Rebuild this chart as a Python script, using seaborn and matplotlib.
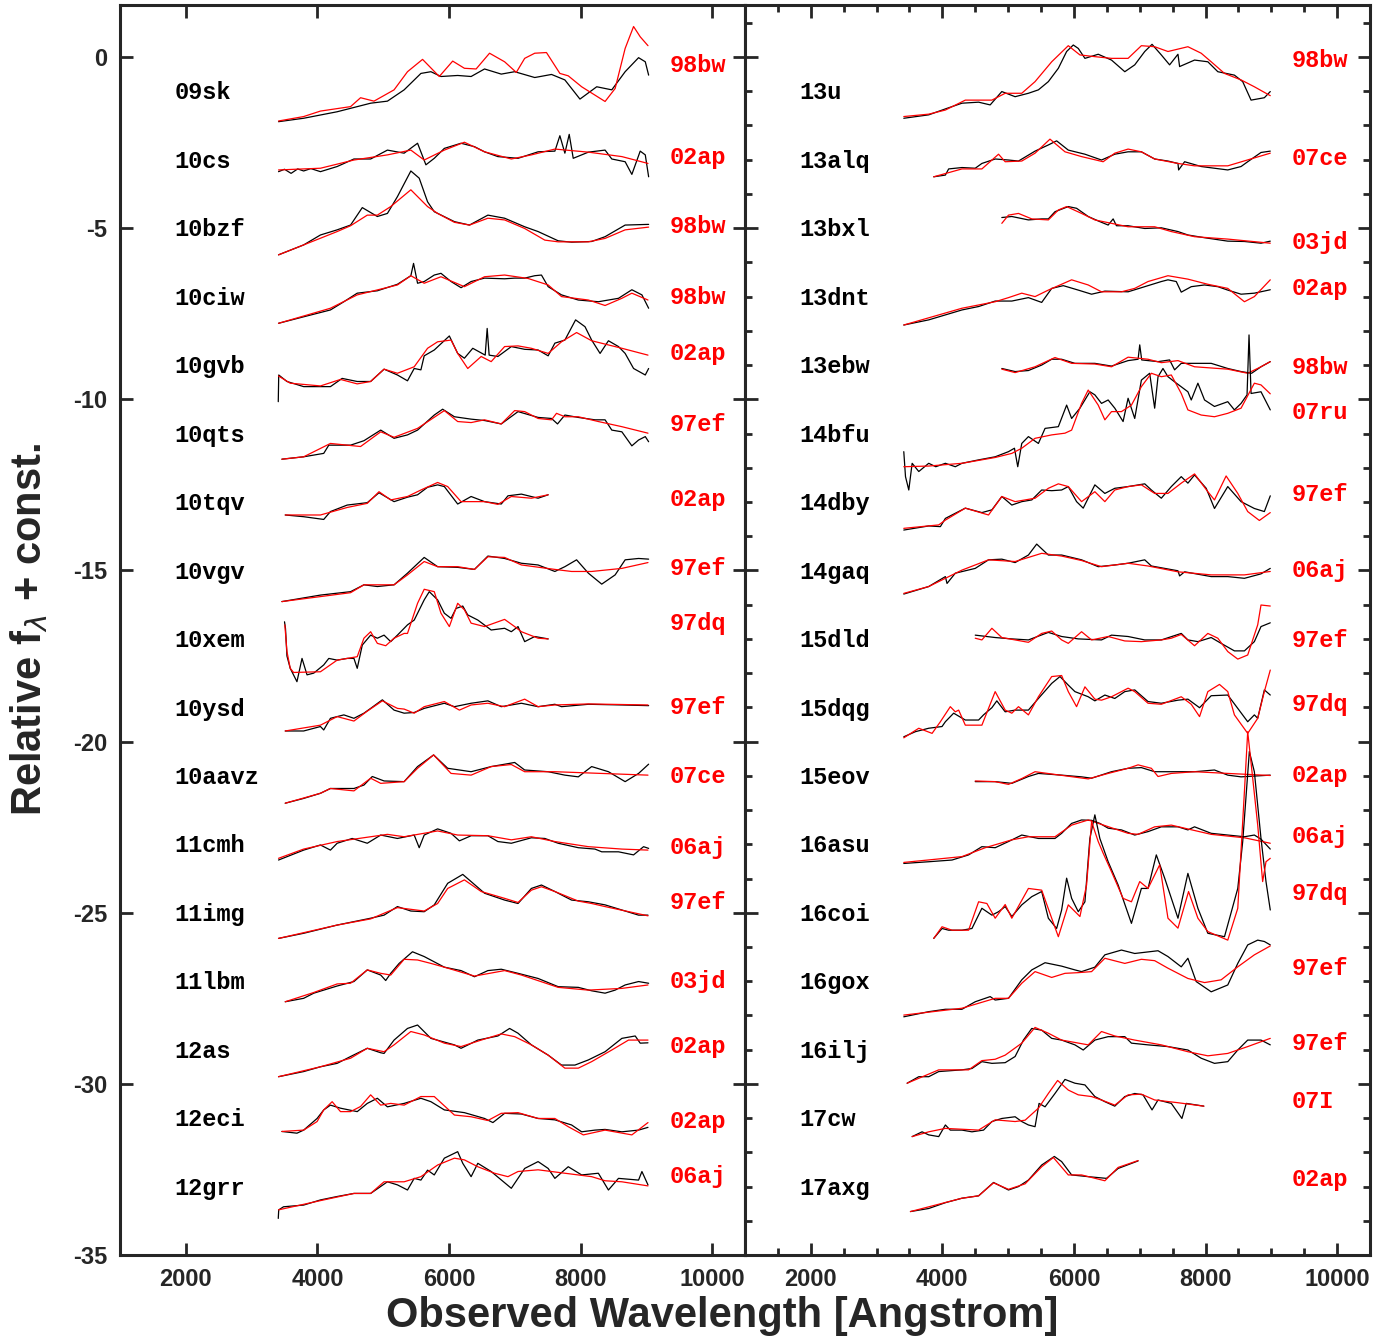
import numpy as np
import pandas as pd
import matplotlib
matplotlib.use("Agg")
from matplotlib import pyplot as plt
from matplotlib.ticker import MultipleLocator
import seaborn as sns

# ---- left column: SN names, best-match templates ----
left_names = ["09sk", "10cs", "10bzf", "10ciw", "10gvb", "10qts", "10tqv", "10vgv", "10xem",
              "10ysd", "10aavz", "11cmh", "11img", "11lbm", "12as", "12eci", "12grr"]
left_tpls = ["98bw", "02ap", "98bw", "98bw", "02ap", "97ef", "02ap", "97ef", "97dq",
             "97ef", "07ce", "06aj", "97ef", "03jd", "02ap", "02ap", "06aj"]

# ---- right column ----
right_names = ["13u", "13alq", "13bxl", "13dnt", "13ebw", "14bfu", "14dby", "14gaq", "15dld",
               "15dqg", "15eov", "16asu", "16coi", "16gox", "16ilj", "17cw", "17axg"]
right_tpls = ["98bw", "07ce", "03jd", "02ap", "98bw", "07ru", "97ef", "06aj", "97ef",
              "97dq", "02ap", "06aj", "97dq", "97ef", "97ef", "07I", "02ap"]

# observed spectra (black) and template spectra (red): (wavelength, relative flux + const)
obs_09sk = [(3409,-1.89),(3791,-1.79),(4300,-1.60),(4809,-1.35),(5064,-1.29),(5318,-0.96),(5573,-0.48),(5725,-0.43),(5878,-0.57),(6132,-0.54),(6336,-0.57),(6540,-0.35),(6794,-0.50),(6998,-0.43),(7303,-0.60),(7558,-0.51),(7761,-0.67),(7990,-1.23),(8245,-0.87),(8474,-0.96),(8677,-0.43),(8881,-0.02),(8983,-0.14),(9034,-0.53)]
tpl_09sk = [(3409,-1.87),(3791,-1.74),(4046,-1.58),(4504,-1.45),(4656,-1.19),(4860,-1.29),(5165,-0.96),(5369,-0.43),(5598,-0.07),(5852,-0.57),(6056,-0.12),(6234,-0.33),(6412,-0.35),(6616,0.11),(6845,-0.14),(7023,-0.45),(7150,-0.04),(7303,0.11),(7481,0.13),(7685,-0.48),(7812,-0.55),(8016,-0.87),(8372,-1.30),(8525,-0.92),(8677,0.25),(8805,0.89),(8906,0.59),(9024,0.33)]
obs_10cs = [(3409,-3.35),(3500,-3.28),(3600,-3.40),(3700,-3.27),(3791,-3.33),(3900,-3.26),(4046,-3.35),(4300,-3.20),(4555,-2.98),(4809,-2.98),(5064,-2.72),(5318,-2.81),(5522,-2.52),(5649,-3.15),(5776,-2.96),(5929,-2.67),(6183,-2.52),(6387,-2.62),(6540,-2.77),(6743,-2.91),(7049,-2.96),(7354,-2.77),(7609,-2.75),(7685,-2.30),(7761,-2.81),(7827,-2.26),(7888,-2.96),(8118,-2.78),(8372,-2.72),(8474,-2.98),(8677,-3.06),(8779,-3.43),(8906,-2.75),(8983,-2.86),(9034,-3.50)]
tpl_10cs = [(3409,-3.30),(4046,-3.25),(4555,-3.01),(5064,-2.86),(5420,-2.72),(5623,-3.01),(5929,-2.72),(6234,-2.49),(6540,-2.77),(6947,-2.98),(7252,-2.86),(7609,-2.69),(8118,-2.78),(8627,-2.91),(9024,-3.11)]
obs_10bzf = [(3409,-5.78),(3791,-5.49),(4046,-5.20),(4300,-5.05),(4504,-4.91),(4682,-4.40),(4911,-4.66),(5064,-4.57),(5216,-4.08),(5420,-3.33),(5547,-3.54),(5674,-4.23),(5776,-4.52),(6082,-4.81),(6311,-4.91),(6591,-4.62),(6845,-4.71),(7150,-4.96),(7354,-5.10),(7659,-5.37),(7863,-5.41),(8168,-5.39),(8372,-5.25),(8677,-4.91),(9034,-4.89)]
tpl_10bzf = [(3409,-5.78),(3791,-5.49),(4300,-5.10),(4504,-4.93),(4758,-4.62),(4911,-4.62),(5114,-4.37),(5420,-3.88),(5674,-4.37),(5827,-4.57),(6082,-4.83),(6311,-4.91),(6591,-4.71),(6845,-4.76),(7150,-5.01),(7456,-5.35),(7659,-5.40),(8118,-5.40),(8372,-5.30),(8677,-5.05),(9034,-4.97)]
obs_10ciw = [(3409,-7.78),(3791,-7.59),(4198,-7.39),(4402,-7.15),(4605,-6.90),(4911,-6.83),(5216,-6.64),(5420,-6.39),(5461,-6.03),(5522,-6.61),(5623,-6.56),(5776,-6.37),(5878,-6.32),(6031,-6.56),(6183,-6.74),(6336,-6.56),(6540,-6.46),(6845,-6.48),(6998,-6.46),(7150,-6.46),(7303,-6.39),(7405,-6.37),(7507,-6.71),(7710,-6.95),(7965,-7.10),(8270,-7.15),(8576,-7.05),(8779,-6.80),(8932,-6.95),(9034,-7.34)]
tpl_10ciw = [(3409,-7.78),(4198,-7.34),(4605,-6.95),(5216,-6.66),(5420,-6.39),(5623,-6.61),(5878,-6.42),(6234,-6.71),(6540,-6.42),(6845,-6.37),(7201,-6.47),(7507,-6.66),(7710,-7.00),(8118,-7.10),(8372,-7.26),(8627,-7.05),(8779,-6.90),(9024,-7.10)]
obs_10gvb = [(3405,-10.07),(3412,-9.29),(3537,-9.48),(3791,-9.63),(4198,-9.63),(4376,-9.39),(4605,-9.48),(4809,-9.48),(5013,-9.12),(5216,-9.29),(5369,-9.46),(5471,-9.10),(5573,-9.14),(5623,-8.73),(5776,-8.56),(6005,-8.15),(6132,-8.66),(6234,-8.80),(6361,-8.51),(6550,-8.71),(6580,-7.93),(6610,-8.71),(6743,-8.75),(6947,-8.46),(7150,-8.54),(7354,-8.56),(7507,-8.73),(7609,-8.36),(7761,-8.27),(7924,-7.68),(8067,-7.88),(8168,-8.27),(8296,-8.66),(8423,-8.29),(8576,-8.46),(8677,-8.66),(8805,-9.10),(8983,-9.29),(9034,-9.10)]
tpl_10gvb = [(3409,-9.32),(3587,-9.53),(4046,-9.61),(4351,-9.42),(4605,-9.55),(4809,-9.48),(5013,-9.12),(5216,-9.24),(5471,-9.05),(5674,-8.51),(5827,-8.32),(6031,-8.27),(6132,-8.66),(6285,-9.10),(6489,-8.75),(6641,-8.90),(6845,-8.46),(7049,-8.44),(7252,-8.51),(7507,-8.66),(7710,-8.32),(7939,-8.05),(8168,-8.29),(8627,-8.51),(9024,-8.71)]
obs_10qts = [(3460,-11.75),(3791,-11.68),(4096,-11.58),(4173,-11.34),(4504,-11.34),(4707,-11.21),(4962,-10.90),(5165,-11.14),(5369,-11.04),(5522,-10.90),(5776,-10.46),(5903,-10.29),(6082,-10.51),(6336,-10.58),(6540,-10.62),(6794,-10.72),(7049,-10.36),(7354,-10.53),(7558,-10.56),(7649,-10.72),(7761,-10.46),(7965,-10.53),(8219,-10.60),(8372,-10.60),(8474,-10.90),(8627,-10.95),(8779,-11.36),(8881,-11.19),(8983,-11.09),(9034,-11.24)]
tpl_10qts = [(3460,-11.75),(3791,-11.68),(4198,-11.29),(4656,-11.38),(4962,-10.95),(5165,-11.11),(5522,-10.85),(5929,-10.33),(6132,-10.65),(6336,-10.68),(6540,-10.60),(6794,-10.72),(6998,-10.33),(7150,-10.36),(7354,-10.56),(7558,-10.60),(7634,-10.41),(7761,-10.51),(7965,-10.51),(8270,-10.65),(8627,-10.80),(9024,-10.99)]
obs_10tqv = [(3511,-13.38),(3791,-13.43),(4096,-13.51),(4198,-13.28),(4453,-13.09),(4758,-13.02),(4936,-12.73),(5165,-12.99),(5369,-12.86),(5522,-12.79),(5674,-12.57),(5827,-12.50),(5929,-12.55),(6132,-13.06),(6336,-12.84),(6540,-12.99),(6794,-13.06),(6896,-12.82),(7100,-12.77),(7354,-12.89),(7507,-12.79)]
tpl_10tqv = [(3511,-13.38),(4046,-13.38),(4453,-13.16),(4758,-13.04),(4936,-12.70),(5114,-12.94),(5369,-12.84),(5573,-12.65),(5827,-12.43),(5980,-12.55),(6183,-12.99),(6540,-12.99),(6743,-13.07),(6947,-12.84),(7252,-12.89),(7507,-12.79)]
obs_10vgv = [(3460,-15.91),(4046,-15.72),(4504,-15.62),(4707,-15.42),(4911,-15.47),(5165,-15.42),(5369,-15.08),(5623,-14.62),(5827,-14.89),(6132,-14.91),(6387,-14.97),(6591,-14.58),(6845,-14.65),(7100,-14.79),(7354,-14.84),(7609,-15.03),(7761,-14.89),(7939,-14.69),(8118,-15.08),(8321,-15.40),(8525,-15.13),(8677,-14.69),(8881,-14.65),(9034,-14.67)]
tpl_10vgv = [(3460,-15.91),(4504,-15.65),(4707,-15.42),(5165,-15.42),(5369,-15.13),(5623,-14.74),(5827,-14.89),(6132,-14.89),(6387,-14.97),(6591,-14.60),(6845,-14.62),(7100,-14.84),(7609,-14.97),(7863,-15.03),(8168,-15.03),(8627,-14.94),(9024,-14.77)]
obs_10xem = [(3500,-16.50),(3515,-16.70),(3537,-17.50),(3587,-17.86),(3689,-18.25),(3766,-17.57),(3842,-18.05),(3944,-18.00),(4096,-17.76),(4173,-17.57),(4300,-17.62),(4453,-17.57),(4555,-17.57),(4605,-17.86),(4682,-17.18),(4809,-16.89),(4911,-16.98),(5013,-16.89),(5114,-17.08),(5216,-16.89),(5369,-16.59),(5471,-16.45),(5623,-15.86),(5700,-15.62),(5827,-15.86),(5929,-16.25),(6031,-16.40),(6107,-16.11),(6209,-16.04),(6285,-16.30),(6438,-16.45),(6641,-16.74),(6845,-16.69),(6947,-16.79),(7049,-16.64),(7150,-17.08),(7303,-16.93),(7507,-17.00)]
tpl_10xem = [(3505,-16.59),(3537,-17.37),(3587,-17.86),(3638,-17.98),(4046,-17.96),(4300,-17.62),(4605,-17.52),(4707,-16.98),(4809,-16.79),(4911,-17.13),(5038,-17.20),(5165,-16.98),(5318,-16.84),(5369,-16.84),(5522,-15.96),(5623,-15.55),(5776,-15.62),(5878,-16.25),(6005,-16.64),(6132,-15.96),(6234,-16.15),(6336,-16.54),(6540,-16.64),(6845,-16.43),(6998,-16.64),(7100,-16.79),(7354,-16.98),(7507,-17.00)]
obs_10ysd = [(3511,-19.69),(3791,-19.69),(4046,-19.56),(4096,-19.66),(4198,-19.32),(4402,-19.22),(4555,-19.32),(4707,-19.17),(4809,-19.03),(4987,-18.78),(5165,-19.08),(5318,-19.17),(5471,-19.15),(5623,-19.03),(5929,-18.88),(6082,-18.98),(6336,-18.88),(6591,-18.81),(6794,-18.98),(7100,-18.88),(7354,-18.98),(7609,-18.91),(7710,-18.98),(8118,-18.91),(8627,-18.93),(9034,-18.95)]
tpl_10ysd = [(3511,-19.69),(4046,-19.52),(4300,-19.27),(4555,-19.40),(4758,-19.11),(4987,-18.81),(5216,-19.03),(5318,-19.05),(5471,-19.17),(5623,-18.98),(5929,-18.83),(6158,-19.08),(6336,-18.93),(6591,-18.88),(6845,-18.98),(7150,-18.76),(7354,-18.98),(7609,-18.93),(8118,-18.90),(9024,-18.93)]
obs_10aavz = [(3511,-21.80),(3791,-21.66),(4046,-21.51),(4198,-21.37),(4555,-21.37),(4707,-21.27),(4834,-21.02),(5013,-21.15),(5318,-21.17),(5522,-20.73),(5766,-20.39),(5980,-20.78),(6336,-20.88),(6641,-20.73),(6998,-20.61),(7150,-20.83),(7507,-20.88),(7761,-20.98),(7965,-21.03),(8168,-20.73),(8423,-20.88),(8677,-21.17),(8881,-20.93),(9034,-20.66)]
tpl_10aavz = [(3511,-21.80),(4046,-21.51),(4198,-21.37),(4555,-21.44),(4809,-21.07),(4962,-21.22),(5318,-21.17),(5522,-20.78),(5766,-20.39),(6031,-20.93),(6336,-20.98),(6641,-20.73),(6947,-20.67),(7150,-20.88),(7609,-20.88),(9024,-20.98)]
obs_11cmh = [(3409,-23.46),(3791,-23.17),(4046,-23.02),(4198,-23.17),(4300,-22.97),(4529,-22.83),(4758,-22.97),(4962,-22.73),(5216,-22.83),(5471,-22.73),(5547,-23.10),(5623,-22.73),(5827,-22.55),(6031,-22.68),(6158,-22.90),(6336,-22.75),(6591,-22.75),(6743,-22.92),(6947,-22.97),(7252,-22.81),(7456,-22.83),(7659,-22.97),(7965,-23.10),(8219,-23.14),(8321,-23.22),(8576,-23.22),(8805,-23.31),(8957,-23.07),(9034,-23.12)]
tpl_11cmh = [(3409,-23.41),(3791,-23.14),(4300,-22.92),(4809,-22.78),(5064,-22.71),(5318,-22.78),(5827,-22.61),(6132,-22.73),(6591,-22.75),(6947,-22.87),(7252,-22.78),(7609,-22.92),(8118,-23.07),(8627,-23.14),(9024,-23.17)]
obs_11img = [(3409,-25.75),(3791,-25.60),(4300,-25.36),(4809,-25.16),(5013,-25.07),(5216,-24.82),(5420,-24.95),(5623,-24.97),(5776,-24.77),(5980,-24.14),(6209,-23.88),(6336,-24.09),(6540,-24.43),(6845,-24.63),(7049,-24.73),(7252,-24.29),(7405,-24.19),(7609,-24.38),(7863,-24.63),(8118,-24.68),(8372,-24.77),(8627,-24.92),(8881,-25.07),(9024,-25.07)]
tpl_11img = [(3409,-25.75),(4300,-25.36),(4809,-25.18),(5216,-24.85),(5623,-24.95),(5827,-24.73),(5980,-24.29),(6234,-24.04),(6489,-24.38),(6845,-24.58),(7049,-24.70),(7252,-24.34),(7405,-24.24),(7609,-24.38),(7965,-24.66),(8168,-24.73),(8372,-24.82),(9024,-25.09)]
obs_11lbm = [(3511,-27.60),(3791,-27.50),(3944,-27.35),(4300,-27.14),(4555,-27.01),(4758,-26.67),(4962,-26.82),(5038,-26.98),(5114,-26.77),(5242,-26.48),(5445,-26.14),(5623,-26.28),(5929,-26.59),(6183,-26.69),(6387,-26.87),(6591,-26.69),(6794,-26.65),(7049,-26.77),(7354,-26.92),(7659,-27.16),(7965,-27.18),(8168,-27.28),(8372,-27.35),(8525,-27.26),(8677,-27.11),(8881,-27.01),(9034,-27.06)]
tpl_11lbm = [(3511,-27.60),(3944,-27.33),(4300,-27.08),(4504,-27.06),(4758,-26.67),(4962,-26.77),(5114,-26.82),(5318,-26.36),(5522,-26.38),(5725,-26.48),(5929,-26.59),(6387,-26.85),(6845,-26.69),(7100,-26.82),(7659,-27.18),(8118,-27.26),(8627,-27.21),(9024,-27.11)]
obs_12as = [(3409,-29.79),(3791,-29.64),(4046,-29.50),(4300,-29.40),(4504,-29.20),(4758,-28.96),(4962,-29.09),(5013,-29.11),(5165,-28.72),(5369,-28.38),(5522,-28.28),(5725,-28.67),(6082,-28.86),(6183,-28.96),(6438,-28.72),(6743,-28.60),(6921,-28.38),(7049,-28.52),(7252,-28.86),(7507,-29.16),(7710,-29.45),(7914,-29.45),(8118,-29.30),(8372,-29.06),(8627,-28.67),(8830,-28.60),(8906,-28.81),(9024,-28.80)]
tpl_12as = [(3409,-29.79),(4046,-29.50),(4504,-29.25),(4758,-28.96),(5013,-29.06),(5165,-28.86),(5420,-28.47),(5623,-28.57),(5929,-28.81),(6183,-28.91),(6489,-28.72),(6794,-28.54),(6998,-28.62),(7252,-28.86),(7507,-29.16),(7761,-29.54),(7965,-29.54),(8168,-29.35),(8474,-29.01),(8728,-28.72),(9024,-28.72)]
obs_12eci = [(3460,-31.39),(3689,-31.44),(3791,-31.35),(3995,-31.01),(4096,-30.76),(4198,-30.62),(4351,-30.71),(4605,-30.81),(4758,-30.57),(4911,-30.42),(5064,-30.67),(5318,-30.57),(5573,-30.42),(5725,-30.52),(5929,-30.76),(6234,-30.84),(6540,-31.01),(6667,-31.13),(6845,-30.86),(7100,-30.88),(7354,-31.01),(7609,-31.05),(7863,-31.20),(8016,-31.40),(8219,-31.35),(8372,-31.33),(8627,-31.40),(8881,-31.35),(9024,-31.27)]
tpl_12eci = [(3460,-31.39),(3791,-31.35),(3995,-31.10),(4096,-30.76),(4224,-30.52),(4351,-30.81),(4504,-30.81),(4656,-30.66),(4809,-30.32),(4962,-30.62),(5114,-30.57),(5318,-30.62),(5573,-30.37),(5776,-30.37),(6082,-30.91),(6336,-30.96),(6591,-31.07),(6794,-30.86),(7049,-30.84),(7354,-31.01),(7609,-31.01),(7812,-31.25),(8041,-31.49),(8372,-31.35),(8779,-31.49),(9024,-31.13)]
obs_12grr = [(3405,-33.93),(3412,-33.68),(3485,-33.59),(3791,-33.54),(4046,-33.39),(4300,-33.29),(4555,-33.20),(4809,-33.20),(5064,-32.86),(5216,-32.95),(5369,-33.10),(5471,-32.76),(5573,-32.81),(5674,-32.52),(5776,-32.66),(5929,-32.17),(6132,-31.98),(6209,-32.32),(6336,-32.71),(6438,-32.32),(6641,-32.56),(6947,-33.05),(7150,-32.47),(7354,-32.27),(7507,-32.47),(7609,-32.76),(7812,-32.42),(8016,-32.66),(8270,-32.61),(8423,-33.10),(8576,-32.76),(8881,-32.81),(8932,-32.56),(9024,-32.95)]
tpl_12grr = [(3409,-33.68),(4046,-33.41),(4555,-33.20),(4809,-33.20),(5013,-32.86),(5318,-32.86),(5573,-32.71),(5827,-32.37),(6082,-32.17),(6234,-32.22),(6438,-32.42),(6692,-32.61),(6896,-32.71),(7049,-32.56),(7354,-32.51),(7761,-32.61),(8168,-32.71),(8372,-32.83),(8627,-32.86),(9024,-32.98)]

obs_13u = [(3414,-1.79),(3793,-1.69),(4071,-1.50),(4298,-1.35),(4551,-1.32),(4727,-1.40),(4904,-1.01),(5106,-1.16),(5308,-1.06),(5460,-0.96),(5611,-0.72),(5763,-0.33),(5889,0.16),(5990,0.35),(6066,0.25),(6167,-0.04),(6369,0.08),(6571,-0.09),(6773,-0.43),(6924,-0.23),(7076,0.16),(7187,0.37),(7328,0.06),(7454,-0.23),(7581,0.08),(7606,-0.28),(7833,-0.09),(8035,-0.14),(8187,-0.43),(8439,-0.53),(8565,-0.72),(8692,-1.26),(8894,-1.19),(8984,-1.01)]
tpl_13u = [(3414,-1.74),(3793,-1.67),(4046,-1.55),(4349,-1.26),(4753,-1.26),(4955,-1.06),(5207,-1.06),(5409,-0.72),(5662,-0.14),(5914,0.33),(6091,0.06),(6318,0.01),(6571,-0.04),(6823,-0.04),(7025,0.33),(7227,0.30),(7429,0.16),(7732,0.30),(7934,0.11),(8086,-0.14),(8288,-0.48),(8540,-0.67),(8742,-0.87),(8984,-1.13)]
obs_13alq = [(3869,-3.50),(4046,-3.45),(4096,-3.27),(4298,-3.23),(4500,-3.25),(4601,-3.11),(4803,-2.98),(5005,-3.01),(5157,-3.04),(5409,-2.75),(5611,-2.57),(5737,-2.45),(5914,-2.72),(6167,-2.84),(6419,-3.01),(6621,-2.84),(6823,-2.77),(7025,-2.77),(7227,-2.98),(7429,-3.04),(7581,-3.11),(7591,-3.30),(7682,-3.06),(7934,-3.20),(8338,-3.30),(8540,-3.20),(8641,-3.06),(8843,-2.79),(8984,-2.75)]
tpl_13alq = [(3869,-3.50),(4298,-3.27),(4601,-3.27),(4854,-2.84),(4955,-3.06),(5207,-3.04),(5409,-2.81),(5636,-2.40),(5864,-2.77),(6116,-2.91),(6444,-3.06),(6621,-2.81),(6823,-2.69),(7025,-2.77),(7227,-2.98),(7581,-3.11),(7833,-3.18),(8338,-3.18),(8984,-2.81)]
obs_13bxl = [(4904,-4.69),(5056,-4.66),(5308,-4.76),(5510,-4.73),(5611,-4.73),(5712,-4.52),(5914,-4.37),(6040,-4.42),(6217,-4.66),(6369,-4.79),(6520,-4.91),(6596,-4.73),(6646,-4.93),(6823,-4.93),(7076,-5.01),(7328,-4.99),(7581,-5.10),(7732,-5.20),(7985,-5.28),(8338,-5.38),(8591,-5.39),(8843,-5.44),(8984,-5.38)]
tpl_13bxl = [(4904,-4.86),(5005,-4.62),(5157,-4.57),(5359,-4.73),(5611,-4.76),(5763,-4.47),(5889,-4.37),(6116,-4.57),(6318,-4.76),(6571,-4.86),(6823,-4.96),(7227,-4.96),(7480,-5.10),(7833,-5.25),(8338,-5.32),(8984,-5.44)]
obs_13dnt = [(3414,-7.83),(3793,-7.68),(4298,-7.39),(4551,-7.29),(4803,-7.13),(5056,-7.13),(5308,-7.03),(5510,-7.17),(5662,-6.76),(5838,-6.68),(6066,-6.81),(6268,-6.93),(6470,-6.84),(6823,-6.86),(7076,-6.71),(7328,-6.56),(7429,-6.51),(7555,-6.56),(7631,-6.87),(7783,-6.71),(7985,-6.66),(8187,-6.71),(8338,-6.81),(8540,-6.93),(8742,-6.90),(8984,-6.80)]
tpl_13dnt = [(3414,-7.83),(4298,-7.34),(4803,-7.15),(5005,-7.03),(5207,-6.90),(5409,-7.00),(5611,-6.81),(5965,-6.51),(6217,-6.66),(6419,-6.86),(6722,-6.86),(6924,-6.76),(7126,-6.56),(7429,-6.39),(7732,-6.49),(8035,-6.64),(8338,-6.76),(8591,-7.15),(8742,-7.00),(8984,-6.51)]
obs_13ebw = [(4904,-9.10),(5106,-9.19),(5308,-9.16),(5510,-9.00),(5662,-8.83),(5813,-8.83),(6015,-8.95),(6318,-8.95),(6571,-9.03),(6823,-8.87),(6975,-8.83),(7000,-8.41),(7030,-8.85),(7278,-8.90),(7454,-8.85),(7530,-9.14),(7631,-8.95),(7833,-8.95),(8086,-8.95),(8338,-9.10),(8540,-9.19),(8700,-9.24),(8843,-9.05),(8984,-8.90)]
tpl_13ebw = [(4904,-9.12),(5106,-9.22),(5409,-9.05),(5712,-8.78),(5965,-8.95),(6318,-8.97),(6571,-9.05),(6823,-8.77),(7126,-8.83),(7328,-8.93),(7581,-8.87),(7833,-9.05),(8338,-9.12),(8641,-9.24),(8843,-9.05),(8984,-8.90)]
obs_14bfu = [(3414,-11.53),(3440,-12.26),(3490,-12.65),(3541,-11.87),(3642,-12.11),(3793,-11.87),(3900,-11.97),(4046,-11.87),(4197,-11.97),(4298,-11.87),(4551,-11.77),(4803,-11.68),(5005,-11.53),(5096,-11.43),(5146,-11.97),(5207,-11.29),(5308,-11.09),(5460,-11.29),(5561,-10.85),(5763,-10.80),(5889,-10.17),(5965,-10.56),(6091,-10.26),(6242,-9.78),(6318,-9.87),(6419,-10.12),(6520,-10.02),(6621,-10.26),(6747,-10.65),(6823,-9.97),(6924,-10.56),(7025,-9.44),(7151,-9.24),(7227,-10.26),(7278,-9.34),(7353,-9.10),(7429,-9.34),(7530,-9.49),(7732,-9.78),(7783,-10.02),(7884,-9.53),(7985,-10.02),(8136,-10.21),(8338,-10.07),(8439,-10.31),(8540,-10.12),(8631,-9.87),(8661,-8.12),(8692,-9.83),(8843,-9.78),(8984,-10.31)]
tpl_14bfu = [(3414,-11.97),(3793,-11.95),(4298,-11.87),(4803,-11.70),(5056,-11.58),(5207,-11.43),(5409,-11.14),(5662,-11.04),(5864,-10.99),(5965,-10.90),(6116,-10.12),(6217,-9.73),(6369,-10.17),(6470,-10.60),(6571,-10.36),(6722,-10.36),(6874,-10.17),(7025,-9.63),(7177,-9.24),(7328,-9.34),(7480,-9.29),(7631,-9.83),(7732,-10.31),(7934,-10.46),(8136,-10.51),(8338,-10.41),(8540,-10.26),(8742,-9.53),(8843,-9.58),(8984,-9.84)]
obs_14dby = [(3414,-13.82),(3793,-13.70),(3970,-13.72),(4046,-13.48),(4197,-13.33),(4349,-13.18),(4601,-13.31),(4753,-13.23),(4904,-12.84),(5056,-13.09),(5207,-12.99),(5359,-12.94),(5510,-12.65),(5662,-12.67),(5813,-12.65),(5914,-12.55),(6040,-12.99),(6141,-13.18),(6318,-12.50),(6470,-12.75),(6621,-12.60),(6823,-12.55),(7076,-12.47),(7177,-12.65),(7328,-12.89),(7480,-12.55),(7631,-12.26),(7732,-12.45),(7833,-12.21),(8010,-12.60),(8136,-13.19),(8338,-12.55),(8540,-12.99),(8742,-13.19),(8894,-13.28),(8984,-12.82)]
tpl_14dby = [(3414,-13.77),(3945,-13.67),(4046,-13.53),(4349,-13.18),(4702,-13.38),(4904,-12.84),(5106,-12.99),(5409,-12.89),(5611,-12.60),(5763,-12.47),(5914,-12.55),(6116,-12.99),(6318,-12.70),(6470,-12.99),(6621,-12.65),(6823,-12.55),(7025,-12.50),(7227,-12.75),(7429,-12.75),(7631,-12.45),(7833,-12.18),(8035,-12.70),(8136,-12.94),(8313,-12.24),(8490,-12.75),(8641,-13.28),(8818,-13.54),(8984,-13.31)]
obs_14gaq = [(3414,-15.69),(3793,-15.47),(4046,-15.18),(4071,-15.38),(4197,-15.08),(4500,-14.94),(4702,-14.69),(4904,-14.67),(5106,-14.77),(5308,-14.55),(5434,-14.23),(5611,-14.55),(5813,-14.55),(6116,-14.69),(6369,-14.89),(6621,-14.84),(6823,-14.79),(7076,-14.69),(7177,-14.87),(7581,-15.01),(7606,-15.16),(7682,-15.04),(8086,-15.18),(8338,-15.18),(8591,-15.23),(8843,-15.10),(8984,-14.94)]
tpl_14gaq = [(3414,-15.67),(3793,-15.47),(4298,-14.99),(4702,-14.69),(5106,-14.74),(5510,-14.50),(5813,-14.58),(6116,-14.71),(6419,-14.89),(6823,-14.79),(7126,-14.87),(7581,-15.04),(8086,-15.13),(8591,-15.13),(8984,-15.03)]
obs_15dld = [(4500,-16.89),(4803,-16.96),(5056,-17.00),(5308,-17.03),(5611,-16.81),(5813,-16.93),(6066,-17.00),(6419,-17.03),(6571,-16.89),(6823,-16.93),(7076,-17.03),(7328,-17.03),(7631,-16.84),(7732,-17.03),(7884,-17.08),(8086,-16.96),(8237,-17.13),(8439,-17.35),(8591,-17.35),(8742,-17.08),(8843,-16.64),(8984,-16.53)]
tpl_15dld = [(4500,-16.98),(4601,-17.03),(4753,-16.69),(4904,-16.96),(5106,-17.03),(5308,-17.10),(5510,-16.84),(5662,-16.77),(5813,-17.03),(5914,-17.13),(6116,-16.79),(6268,-17.03),(6520,-16.93),(6773,-17.06),(7025,-17.08),(7328,-17.03),(7480,-16.98),(7631,-16.87),(7833,-17.20),(8035,-16.84),(8187,-16.98),(8338,-17.37),(8490,-17.59),(8641,-17.47),(8793,-16.59),(8843,-16.01),(8984,-16.04)]
obs_15dqg = [(3414,-19.86),(3591,-19.71),(3793,-19.61),(3995,-19.56),(4046,-19.42),(4172,-19.17),(4349,-19.37),(4551,-19.37),(4626,-19.22),(4753,-19.01),(4828,-18.81),(4955,-19.13),(5106,-19.08),(5308,-19.08),(5460,-18.74),(5662,-18.30),(5788,-18.10),(5914,-18.35),(6015,-18.54),(6217,-18.69),(6318,-18.81),(6470,-18.64),(6621,-18.74),(6773,-18.54),(6924,-18.49),(7126,-18.83),(7328,-18.88),(7581,-18.79),(7732,-18.76),(7909,-19.01),(8086,-18.66),(8338,-18.64),(8490,-19.03),(8641,-19.42),(8742,-19.22),(8793,-19.32),(8894,-18.49),(8984,-18.64)]
tpl_15dqg = [(3414,-19.89),(3642,-19.61),(3844,-19.76),(3970,-19.42),(4121,-18.98),(4197,-19.13),(4248,-19.08),(4349,-19.52),(4601,-19.52),(4803,-18.54),(4955,-19.08),(5056,-19.17),(5157,-18.98),(5308,-19.22),(5460,-18.69),(5662,-18.10),(5813,-18.07),(5914,-18.54),(6040,-18.98),(6167,-18.40),(6318,-18.76),(6419,-18.79),(6571,-18.69),(6823,-18.44),(6924,-18.54),(7126,-18.88),(7328,-18.91),(7631,-18.69),(7783,-18.91),(7909,-19.27),(8035,-18.54),(8212,-18.33),(8338,-18.54),(8439,-19.22),(8641,-19.76),(8793,-19.32),(8894,-18.54),(8984,-17.91)]
obs_15eov = [(4500,-21.17),(4803,-21.17),(5056,-21.22),(5308,-21.02),(5460,-20.93),(5813,-20.98),(6116,-21.03),(6268,-21.07),(6571,-20.88),(6823,-20.78),(7025,-20.76),(7227,-20.88),(7581,-20.88),(7833,-20.88),(8136,-20.83),(8338,-20.98),(8540,-21.03),(8984,-20.98)]
tpl_15eov = [(4500,-21.15),(4803,-21.17),(5005,-21.25),(5207,-21.08),(5409,-20.88),(5712,-20.96),(6217,-21.09),(6520,-20.93),(6823,-20.78),(6975,-20.68),(7177,-20.78),(7278,-21.02),(7480,-20.93),(7833,-20.88),(8338,-20.93),(8984,-20.99)]
obs_16asu = [(3414,-23.56),(3793,-23.51),(4147,-23.46),(4399,-23.31),(4601,-23.07),(4803,-23.10),(5005,-22.92),(5207,-22.73),(5460,-22.83),(5712,-22.83),(5813,-22.68),(5965,-22.39),(6116,-22.29),(6268,-22.30),(6394,-22.39),(6520,-22.53),(6722,-22.58),(6924,-22.73),(7126,-22.63),(7328,-22.49),(7581,-22.49),(7732,-22.58),(7833,-22.49),(8086,-22.68),(8338,-22.73),(8591,-22.78),(8742,-22.73),(8843,-22.85),(8984,-23.14)]
tpl_16asu = [(3414,-23.53),(4298,-23.36),(4652,-23.10),(5056,-22.87),(5308,-22.78),(5712,-22.78),(5965,-22.44),(6217,-22.29),(6419,-22.42),(6823,-22.68),(6975,-22.71),(7227,-22.49),(7480,-22.44),(7682,-22.53),(8086,-22.71),(8591,-22.81),(8984,-22.97)]
obs_16coi = [(3869,-25.75),(3995,-25.46),(4096,-25.51),(4298,-25.51),(4450,-25.46),(4601,-24.87),(4753,-25.07),(4854,-24.97),(4955,-24.82),(5056,-25.11),(5207,-24.77),(5359,-24.53),(5510,-24.38),(5611,-25.16),(5737,-25.46),(5813,-24.92),(5889,-23.99),(5965,-24.58),(6066,-24.97),(6167,-24.68),(6242,-22.83),(6318,-22.14),(6394,-22.83),(6520,-23.51),(6672,-24.19),(6874,-25.31),(7025,-24.29),(7126,-24.29),(7252,-23.31),(7379,-23.99),(7581,-25.16),(7732,-23.85),(7884,-24.87),(8035,-25.60),(8288,-25.70),(8490,-24.29),(8565,-22.92),(8666,-20.29),(8742,-20.88),(8843,-22.83),(8919,-24.09),(8984,-24.92)]
tpl_16coi = [(3869,-25.75),(3995,-25.41),(4147,-25.51),(4399,-25.51),(4551,-24.68),(4677,-24.73),(4803,-25.16),(4955,-24.76),(5056,-25.16),(5308,-24.29),(5510,-24.34),(5662,-25.16),(5763,-25.70),(5914,-24.77),(6091,-25.11),(6192,-24.19),(6268,-22.34),(6369,-22.92),(6444,-23.26),(6571,-23.80),(6747,-24.58),(6874,-24.68),(7000,-24.09),(7126,-24.29),(7303,-23.60),(7429,-25.16),(7581,-25.45),(7742,-24.38),(7884,-25.16),(8035,-25.55),(8338,-25.80),(8490,-24.87),(8591,-21.46),(8641,-19.71),(8717,-21.07),(8793,-22.44),(8868,-24.09),(8919,-23.51),(8984,-23.41)]
obs_16gox = [(3414,-28.04),(3793,-27.89),(4046,-27.82),(4298,-27.82),(4500,-27.60),(4727,-27.45),(4803,-27.55),(5005,-27.50),(5207,-26.96),(5359,-26.67),(5561,-26.46),(5813,-26.56),(6015,-26.67),(6116,-26.72),(6318,-26.59),(6470,-26.23),(6722,-26.09),(6924,-26.19),(7278,-26.11),(7429,-26.28),(7631,-26.58),(7732,-26.33),(7858,-27.01),(8086,-27.31),(8338,-27.11),(8490,-26.48),(8641,-25.94),(8793,-25.80),(8894,-25.84),(8984,-25.94)]
tpl_16gox = [(3414,-27.99),(4298,-27.79),(4803,-27.50),(5005,-27.50),(5207,-27.06),(5409,-26.72),(5662,-26.89),(5864,-26.77),(6066,-26.75),(6268,-26.72),(6470,-26.33),(6773,-26.48),(7025,-26.36),(7227,-26.40),(7429,-26.62),(7732,-26.92),(7985,-27.04),(8237,-26.96),(8490,-26.58),(8742,-26.23),(8984,-25.97)]
obs_16ilj = [(3465,-29.98),(3642,-29.79),(3793,-29.79),(3945,-29.64),(4298,-29.59),(4450,-29.55),(4601,-29.35),(4753,-29.40),(4955,-29.38),(5106,-29.20),(5232,-28.72),(5359,-28.38),(5510,-28.43),(5662,-28.67),(5813,-28.72),(6015,-28.86),(6141,-29.01),(6318,-28.72),(6520,-28.62),(6773,-28.62),(6874,-28.81),(7126,-28.86),(7429,-28.91),(7732,-29.01),(7934,-29.25),(8136,-29.40),(8338,-29.35),(8490,-29.01),(8641,-28.72),(8843,-28.72),(8984,-28.86)]
tpl_16ilj = [(3465,-29.98),(3945,-29.59),(4399,-29.59),(4601,-29.32),(4803,-29.28),(4955,-29.16),(5207,-28.81),(5409,-28.35),(5611,-28.52),(5813,-28.72),(6015,-28.79),(6217,-28.86),(6419,-28.47),(6621,-28.60),(6924,-28.72),(7328,-28.86),(7732,-29.06),(8035,-29.18),(8338,-29.11),(8641,-28.91),(8984,-28.67)]
obs_17cw = [(3541,-31.54),(3692,-31.40),(3793,-31.49),(3945,-31.54),(4046,-31.20),(4121,-31.35),(4298,-31.35),(4450,-31.40),(4626,-31.35),(4753,-31.10),(4904,-31.01),(5106,-30.96),(5207,-31.10),(5308,-31.20),(5409,-31.25),(5470,-30.57),(5561,-30.67),(5712,-30.28),(5864,-29.87),(6015,-29.98),(6167,-30.03),(6318,-30.37),(6470,-30.52),(6621,-30.65),(6773,-30.37),(6924,-30.28),(7050,-30.32),(7187,-30.76),(7278,-30.47),(7480,-30.57),(7641,-31.01),(7707,-30.57),(7974,-30.65)]
tpl_17cw = [(3541,-31.54),(3793,-31.40),(4046,-31.30),(4551,-31.35),(4803,-31.05),(5106,-31.10),(5258,-31.06),(5460,-30.71),(5611,-30.28),(5752,-29.90),(5914,-30.18),(6066,-30.32),(6268,-30.37),(6419,-30.47),(6621,-30.62),(6823,-30.32),(7025,-30.30),(7227,-30.47),(7581,-30.55),(7974,-30.65)]
obs_17axg = [(3515,-33.73),(3793,-33.64),(4046,-33.47),(4298,-33.34),(4551,-33.27),(4778,-32.88),(5005,-33.10),(5157,-33.00),(5308,-32.81),(5510,-32.37),(5702,-32.12),(5813,-32.27),(5965,-32.66),(6217,-32.71),(6495,-32.76),(6672,-32.47),(6975,-32.25)]
tpl_17axg = [(3515,-33.73),(4298,-33.34),(4551,-33.27),(4778,-32.89),(5005,-33.08),(5258,-32.92),(5510,-32.42),(5687,-32.15),(5914,-32.66),(6116,-32.66),(6470,-32.83),(6672,-32.44),(6975,-32.24)]

left_obs = [obs_09sk, obs_10cs, obs_10bzf, obs_10ciw, obs_10gvb, obs_10qts, obs_10tqv, obs_10vgv, obs_10xem,
            obs_10ysd, obs_10aavz, obs_11cmh, obs_11img, obs_11lbm, obs_12as, obs_12eci, obs_12grr]
left_fit = [tpl_09sk, tpl_10cs, tpl_10bzf, tpl_10ciw, tpl_10gvb, tpl_10qts, tpl_10tqv, tpl_10vgv, tpl_10xem,
            tpl_10ysd, tpl_10aavz, tpl_11cmh, tpl_11img, tpl_11lbm, tpl_12as, tpl_12eci, tpl_12grr]
right_obs = [obs_13u, obs_13alq, obs_13bxl, obs_13dnt, obs_13ebw, obs_14bfu, obs_14dby, obs_14gaq, obs_15dld,
             obs_15dqg, obs_15eov, obs_16asu, obs_16coi, obs_16gox, obs_16ilj, obs_17cw, obs_17axg]
right_fit = [tpl_13u, tpl_13alq, tpl_13bxl, tpl_13dnt, tpl_13ebw, tpl_14bfu, tpl_14dby, tpl_14gaq, tpl_15dld,
             tpl_15dqg, tpl_15eov, tpl_16asu, tpl_16coi, tpl_16gox, tpl_16ilj, tpl_17cw, tpl_17axg]

# where the red template names sit
left_tpl_y = [-0.26, -2.95, -4.94, -7.04, -8.65, -10.75, -12.94, -14.93, -16.56,
              -18.99, -21.03, -23.1, -24.7, -27.0, -28.9, -31.1, -32.7]
right_tpl_y = [-0.09, -2.98, -5.43, -6.75, -9.06, -10.4, -12.77, -14.99, -17.06,
               -18.93, -21.0, -22.76, -24.45, -26.64, -28.83, -30.5, -32.78]

sns.set_style("ticks")
plt.rcParams["font.family"] = ["Liberation Sans", "DejaVu Sans"]
plt.rcParams["axes.unicode_minus"] = False
edge = "#262626"

fig = plt.figure(figsize=(13.94, 13.40), dpi=100)
ax1 = fig.add_axes([0.0861, 0.0634, 0.4484, 0.9329])
ax2 = fig.add_axes([0.5344, 0.0634, 0.4484, 0.9329])


def draw_panel(ax, names, tpls, obs, fits, tpl_y, tpl_x):
    for i in range(len(names)):
        o = pd.DataFrame(obs[i], columns=["wl", "flux"])
        f = pd.DataFrame(fits[i], columns=["wl", "flux"])
        sns.lineplot(data=o, x="wl", y="flux", color="black", lw=0.9, ax=ax,
                     sort=False, estimator=None)
        sns.lineplot(data=f, x="wl", y="flux", color="red", lw=0.9, ax=ax,
                     sort=False, estimator=None)
        ax.text(1830, -1.05 - 2 * i, names[i], family="Liberation Mono", weight="bold",
                fontsize=17, va="center", ha="left", color="black")
        ax.text(tpl_x, tpl_y[i], tpls[i], family="Liberation Mono", weight="bold",
                fontsize=17, va="center", ha="left", color="red")

    ax.set_xlim(1000, 10500)
    ax.set_ylim(-35, 1.52)
    ax.xaxis.set_major_locator(MultipleLocator(2000))
    ax.yaxis.set_major_locator(MultipleLocator(5))
    ax.tick_params(which="both", direction="in", top=True, right=True, color=edge, width=2)
    ax.tick_params(which="major", length=9, labelsize=17, labelcolor=edge, pad=9)
    ax.tick_params(which="minor", length=5)
    for s in ax.spines.values():
        s.set_linewidth(2.2)
        s.set_color(edge)
    for lab in ax.get_xticklabels() + ax.get_yticklabels():
        lab.set_fontweight("bold")
    ax.set_xlabel("")
    ax.set_ylabel("")


draw_panel(ax1, left_names, left_tpls, left_obs, left_fit, left_tpl_y, 9359)
draw_panel(ax2, right_names, right_tpls, right_obs, right_fit, right_tpl_y, 9302)
ax2.set_yticklabels([])
ax2.xaxis.set_minor_locator(MultipleLocator(500))
ax2.yaxis.set_minor_locator(MultipleLocator(1))

fig.text(0.518, 0.003, "Observed Wavelength [Angstrom]", ha="center", va="bottom",
         fontsize=30, weight="bold", color=edge)
fig.text(0.006, 0.53, r"Relative f$_\lambda$ + const.", ha="left", va="center",
         rotation=90, fontsize=30, weight="bold", color=edge)

fig.savefig("out.png", dpi=100)
